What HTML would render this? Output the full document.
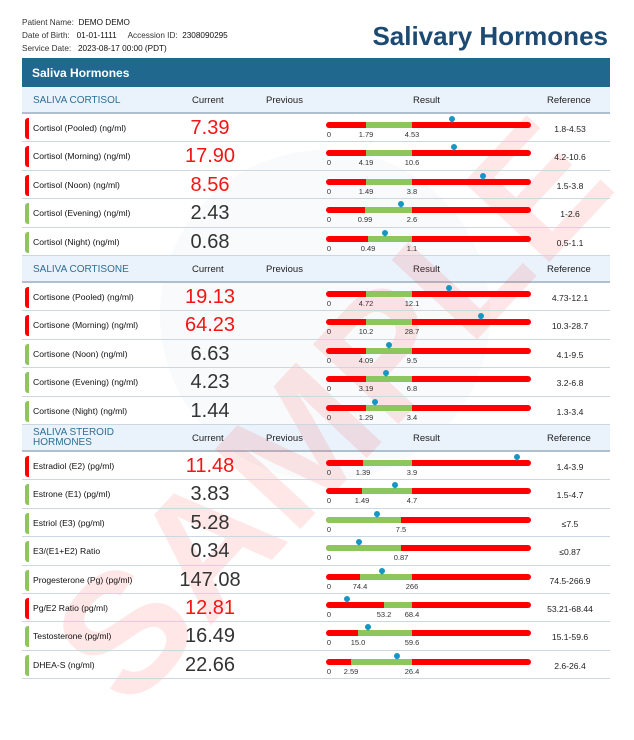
<!DOCTYPE html>
<html><head><meta charset="utf-8"><style>
*{margin:0;padding:0;box-sizing:border-box}
body{width:634px;height:730px;background:#fff;font-family:"Liberation Sans",sans-serif;position:relative;overflow:hidden;color:#222}
.wm{position:absolute;left:-28px;top:312px;font-size:170px;font-weight:bold;color:rgba(255,60,60,0.12);transform:rotate(-47deg);letter-spacing:2px;white-space:nowrap;z-index:1;pointer-events:none;transform-origin:center}
.circ{position:absolute;left:160px;top:150px;width:330px;height:330px;border-radius:50%;background:rgba(230,235,240,0.25);z-index:0}
.info{position:absolute;left:22px;font-size:8.2px;color:#333}
.info b{font-weight:normal;color:#111}
h1{position:absolute;right:26px;top:21px;font-size:26px;color:#1c4a72;font-weight:bold}
.bar0{position:absolute;left:22px;top:58px;width:588px;height:29px;background:#21688f;color:#fff;font-size:12px;font-weight:bold;padding:8px 0 0 10px;z-index:3}
.hd{position:absolute;left:22px;width:588px;height:27px;background:#eaf2fb;border-bottom:2px solid #aebfce;font-size:9.5px;color:#222;z-index:0}
.hd span{position:absolute;top:8px}
.hd .t{left:11px;color:#2e6f96;font-size:10px}
.row{position:absolute;left:22px;width:588px;height:28.4px;border-bottom:1px solid #cbd8e2;z-index:2}
.tab{position:absolute;left:3px;top:4px;width:4px;height:21px;border-radius:3px 0 0 3px}
.r{background:#f00}.g{background:#8cc65c}
.nm{position:absolute;left:11px;top:9px;font-size:8.6px;color:#111}
.v{position:absolute;left:138px;width:100px;text-align:center;top:3px;font-size:20px;color:#333}
.v.red{color:#f41414}
.br{position:absolute;left:304px;top:8px;width:205px;height:6px;border-radius:3px;background:#f00;overflow:visible}
.gs{position:absolute;top:0;height:6px;background:#8cc65c}
.l{position:absolute;top:8px;font-size:7.5px;color:#333;transform:translateX(-50%);white-space:nowrap}
.mk{position:absolute;top:-6px;width:6px;height:6px;border-radius:50%;background:#1597c6;margin-left:-3px}
.mk:after{content:"";position:absolute;left:1px;top:4px;border-left:2px solid transparent;border-right:2px solid transparent;border-top:3px solid #1597c6}
.rf{position:absolute;left:508px;width:80px;text-align:center;top:10px;font-size:8.6px;color:#222}
</style></head><body>
<div class="circ"></div>
<div class="info" style="top:18px">Patient Name:&nbsp; <b>DEMO DEMO</b></div>
<div class="info" style="top:31px">Date of Birth:&nbsp;&nbsp; <b>01-01-1111</b>&nbsp;&nbsp;&nbsp;&nbsp; Accession ID:&nbsp; <b>2308090295</b></div>
<div class="info" style="top:44px">Service Date:&nbsp;&nbsp; <b>2023-08-17 00:00 (PDT)</b></div>
<h1>Salivary Hormones</h1>
<div class="bar0">Saliva Hormones</div>

<div class="hd" style="top:87px"><span class="t">SALIVA CORTISOL</span><span style="left:170px">Current</span><span style="left:244px">Previous</span><span style="left:391px">Result</span><span style="left:525px">Reference</span></div>
<div class="row" style="top:114px"><div class="tab r"></div><div class="nm">Cortisol (Pooled) (ng/ml)</div><div class="v red">7.39</div><div class="br"><div class="gs" style="left:40px;width:46px"></div><span class="l" style="left:3px">0</span><span class="l" style="left:40px">1.79</span><span class="l" style="left:86px">4.53</span><div class="mk" style="left:126px"></div></div><div class="rf">1.8-4.53</div></div>
<div class="row" style="top:142.4px"><div class="tab r"></div><div class="nm">Cortisol (Morning) (ng/ml)</div><div class="v red">17.90</div><div class="br"><div class="gs" style="left:40px;width:46px"></div><span class="l" style="left:3px">0</span><span class="l" style="left:40px">4.19</span><span class="l" style="left:86px">10.6</span><div class="mk" style="left:128px"></div></div><div class="rf">4.2-10.6</div></div>
<div class="row" style="top:170.8px"><div class="tab r"></div><div class="nm">Cortisol (Noon) (ng/ml)</div><div class="v red">8.56</div><div class="br"><div class="gs" style="left:40px;width:46px"></div><span class="l" style="left:3px">0</span><span class="l" style="left:40px">1.49</span><span class="l" style="left:86px">3.8</span><div class="mk" style="left:157px"></div></div><div class="rf">1.5-3.8</div></div>
<div class="row" style="top:199.2px"><div class="tab g"></div><div class="nm">Cortisol (Evening) (ng/ml)</div><div class="v">2.43</div><div class="br"><div class="gs" style="left:39px;width:47px"></div><span class="l" style="left:3px">0</span><span class="l" style="left:39px">0.99</span><span class="l" style="left:86px">2.6</span><div class="mk" style="left:75px"></div></div><div class="rf">1-2.6</div></div>
<div class="row" style="top:227.6px"><div class="tab g"></div><div class="nm">Cortisol (Night) (ng/ml)</div><div class="v">0.68</div><div class="br"><div class="gs" style="left:42px;width:44px"></div><span class="l" style="left:3px">0</span><span class="l" style="left:42px">0.49</span><span class="l" style="left:86px">1.1</span><div class="mk" style="left:59px"></div></div><div class="rf">0.5-1.1</div></div>

<div class="hd" style="top:256px"><span class="t">SALIVA CORTISONE</span><span style="left:170px">Current</span><span style="left:244px">Previous</span><span style="left:391px">Result</span><span style="left:525px">Reference</span></div>
<div class="row" style="top:283px"><div class="tab r"></div><div class="nm">Cortisone (Pooled) (ng/ml)</div><div class="v red">19.13</div><div class="br"><div class="gs" style="left:40px;width:46px"></div><span class="l" style="left:3px">0</span><span class="l" style="left:40px">4.72</span><span class="l" style="left:86px">12.1</span><div class="mk" style="left:123px"></div></div><div class="rf">4.73-12.1</div></div>
<div class="row" style="top:311.4px"><div class="tab r"></div><div class="nm">Cortisone (Morning) (ng/ml)</div><div class="v red">64.23</div><div class="br"><div class="gs" style="left:40px;width:46px"></div><span class="l" style="left:3px">0</span><span class="l" style="left:40px">10.2</span><span class="l" style="left:86px">28.7</span><div class="mk" style="left:155px"></div></div><div class="rf">10.3-28.7</div></div>
<div class="row" style="top:339.8px"><div class="tab g"></div><div class="nm">Cortisone (Noon) (ng/ml)</div><div class="v">6.63</div><div class="br"><div class="gs" style="left:40px;width:46px"></div><span class="l" style="left:3px">0</span><span class="l" style="left:40px">4.09</span><span class="l" style="left:86px">9.5</span><div class="mk" style="left:63px"></div></div><div class="rf">4.1-9.5</div></div>
<div class="row" style="top:368.2px"><div class="tab g"></div><div class="nm">Cortisone (Evening) (ng/ml)</div><div class="v">4.23</div><div class="br"><div class="gs" style="left:40px;width:46px"></div><span class="l" style="left:3px">0</span><span class="l" style="left:40px">3.19</span><span class="l" style="left:86px">6.8</span><div class="mk" style="left:60px"></div></div><div class="rf">3.2-6.8</div></div>
<div class="row" style="top:396.6px"><div class="tab g"></div><div class="nm">Cortisone (Night) (ng/ml)</div><div class="v">1.44</div><div class="br"><div class="gs" style="left:40px;width:46px"></div><span class="l" style="left:3px">0</span><span class="l" style="left:40px">1.29</span><span class="l" style="left:86px">3.4</span><div class="mk" style="left:49px"></div></div><div class="rf">1.3-3.4</div></div>

<div class="hd" style="top:425px"><span class="t" style="top:3px;line-height:10px">SALIVA STEROID<br>HORMONES</span><span style="left:170px">Current</span><span style="left:244px">Previous</span><span style="left:391px">Result</span><span style="left:525px">Reference</span></div>
<div class="row" style="top:452px"><div class="tab r"></div><div class="nm">Estradiol (E2) (pg/ml)</div><div class="v red">11.48</div><div class="br"><div class="gs" style="left:37px;width:49px"></div><span class="l" style="left:3px">0</span><span class="l" style="left:37px">1.39</span><span class="l" style="left:86px">3.9</span><div class="mk" style="left:191px"></div></div><div class="rf">1.4-3.9</div></div>
<div class="row" style="top:480.4px"><div class="tab g"></div><div class="nm">Estrone (E1) (pg/ml)</div><div class="v">3.83</div><div class="br"><div class="gs" style="left:36px;width:50px"></div><span class="l" style="left:3px">0</span><span class="l" style="left:36px">1.49</span><span class="l" style="left:86px">4.7</span><div class="mk" style="left:69px"></div></div><div class="rf">1.5-4.7</div></div>
<div class="row" style="top:508.8px"><div class="tab g"></div><div class="nm">Estriol (E3) (pg/ml)</div><div class="v">5.28</div><div class="br"><div class="gs" style="left:0;width:75px;border-radius:3px 0 0 3px"></div><span class="l" style="left:3px">0</span><span class="l" style="left:75px">7.5</span><div class="mk" style="left:51px"></div></div><div class="rf">≤7.5</div></div>
<div class="row" style="top:537.2px"><div class="tab g"></div><div class="nm">E3/(E1+E2) Ratio</div><div class="v">0.34</div><div class="br"><div class="gs" style="left:0;width:75px;border-radius:3px 0 0 3px"></div><span class="l" style="left:3px">0</span><span class="l" style="left:75px">0.87</span><div class="mk" style="left:33px"></div></div><div class="rf">≤0.87</div></div>
<div class="row" style="top:565.6px"><div class="tab g"></div><div class="nm">Progesterone (Pg) (pg/ml)</div><div class="v">147.08</div><div class="br"><div class="gs" style="left:34px;width:52px"></div><span class="l" style="left:3px">0</span><span class="l" style="left:34px">74.4</span><span class="l" style="left:86px">266</span><div class="mk" style="left:56px"></div></div><div class="rf">74.5-266.9</div></div>
<div class="row" style="top:594px"><div class="tab r"></div><div class="nm">Pg/E2 Ratio (pg/ml)</div><div class="v red">12.81</div><div class="br"><div class="gs" style="left:58px;width:28px"></div><span class="l" style="left:3px">0</span><span class="l" style="left:58px">53.2</span><span class="l" style="left:86px">68.4</span><div class="mk" style="left:21px"></div></div><div class="rf">53.21-68.44</div></div>
<div class="row" style="top:622.4px"><div class="tab g"></div><div class="nm">Testosterone (pg/ml)</div><div class="v">16.49</div><div class="br"><div class="gs" style="left:32px;width:54px"></div><span class="l" style="left:3px">0</span><span class="l" style="left:32px">15.0</span><span class="l" style="left:86px">59.6</span><div class="mk" style="left:42px"></div></div><div class="rf">15.1-59.6</div></div>
<div class="row" style="top:650.8px"><div class="tab g"></div><div class="nm">DHEA-S (ng/ml)</div><div class="v">22.66</div><div class="br"><div class="gs" style="left:25px;width:61px"></div><span class="l" style="left:3px">0</span><span class="l" style="left:25px">2.59</span><span class="l" style="left:86px">26.4</span><div class="mk" style="left:71px"></div></div><div class="rf">2.6-26.4</div></div>

<div class="wm">SAMPLE</div>
</body></html>
